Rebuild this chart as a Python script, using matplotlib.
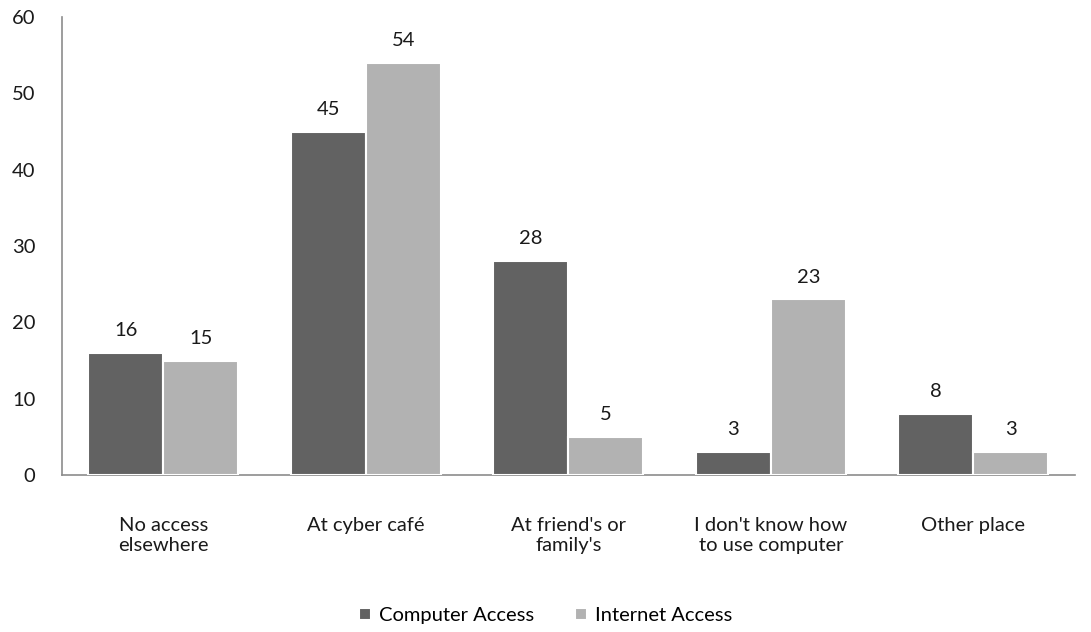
import matplotlib
matplotlib.use("Agg")
import matplotlib.pyplot as plt
import numpy as np

plt.rcParams['font.family'] = ['Lato', 'DejaVu Sans']

categories = ["No access\nelsewhere", "At cyber café", "At friend's or\nfamily's",
              "I don't know how\nto use computer", "Other place"]
computer_access = [16, 45, 28, 3, 8]
internet_access = [15, 54, 5, 23, 3]
series_names = ["Computer Access", "Internet Access"]
colors = ["#626262", "#b2b2b2"]
text_color = "#1a1a1a"
fs = 14.5

fig = plt.figure(figsize=(10.91, 6.32), dpi=100)
ax = fig.add_axes([0.0568, 0.2484, 0.9282, 0.7246])

x = np.arange(len(categories))
w = 0.37
bars1 = ax.bar(x - w / 2, computer_access, w, color=colors[0], edgecolor="white",
               linewidth=1.5, label=series_names[0], zorder=3)
bars2 = ax.bar(x + w / 2, internet_access, w, color=colors[1], edgecolor="white",
               linewidth=1.5, label=series_names[1], zorder=3)

for bars, vals in ((bars1, computer_access), (bars2, internet_access)):
    for b, v in zip(bars, vals):
        ax.annotate(str(v), (b.get_x() + b.get_width() / 2, v),
                    xytext=(0, 10), textcoords="offset points",
                    ha="center", va="bottom", fontsize=fs, color=text_color)

ax.set_xlim(-0.5, len(categories) - 0.5)
ax.set_ylim(0, 60)
ax.set_yticks(range(0, 61, 10))
ax.set_xticks(x)
ax.set_xticklabels(categories, fontsize=fs, color=text_color, linespacing=1.25)
ax.tick_params(axis="y", labelsize=fs, labelcolor=text_color, length=0, pad=19)
ax.tick_params(axis="x", length=0, pad=30)

for s in ("top", "right"):
    ax.spines[s].set_visible(False)
for s in ("left", "bottom"):
    ax.spines[s].set_color("#8c8c8c")
    ax.spines[s].set_linewidth(1.2)

fig.legend(handles=[bars1, bars2], labels=series_names, loc="center",
           bbox_to_anchor=(0.5, 0.026), ncol=2, frameon=False, fontsize=fs,
           handlelength=0.6, handleheight=0.6, handletextpad=0.4, columnspacing=2.0)

fig.savefig("out.png", dpi=100)
